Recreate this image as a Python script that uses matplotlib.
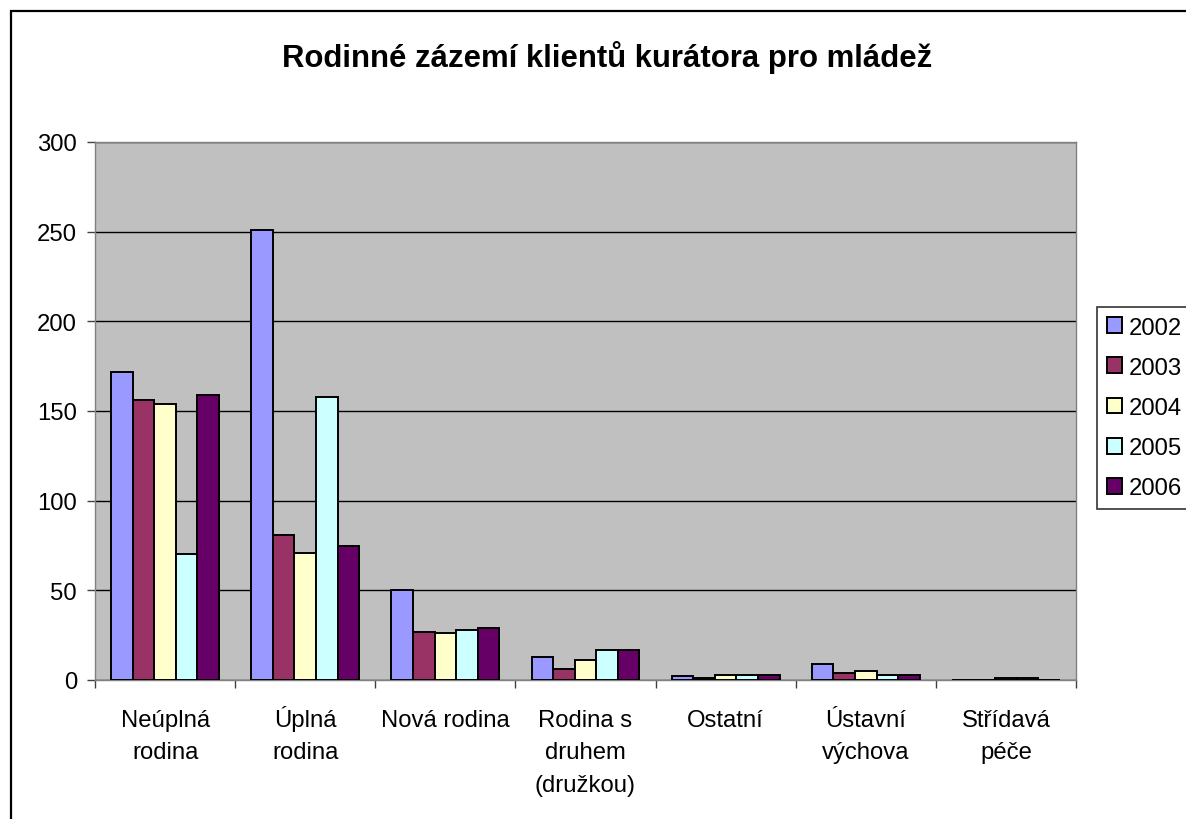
import matplotlib
matplotlib.use("Agg")
import matplotlib.pyplot as plt
import matplotlib.transforms as mtransforms
import numpy as np
from matplotlib.patches import Rectangle

categories = ["Neúplná\nrodina", "Úplná\nrodina", "Nová rodina", "Rodina s\ndruhem\n(družkou)",
              "Ostatní", "Ústavní\nvýchova", "Střídavá\npéče"]
years = ["2002", "2003", "2004", "2005", "2006"]
v2002 = [172, 251, 50, 13, 2, 9, 0]
v2003 = [156, 81, 27, 6, 1, 4, 0]
v2004 = [154, 71, 26, 11, 3, 5, 1]
v2005 = [70, 158, 28, 17, 3, 3, 1]
v2006 = [159, 75, 29, 17, 3, 3, 0]
series = [v2002, v2003, v2004, v2005, v2006]
colors = ["#9999FF", "#993366", "#FFFFCC", "#CCFFFF", "#660066"]
title = "Rodinné zázemí klientů kurátora pro mládež"

plt.rcParams['font.family'] = ['Liberation Sans', 'DejaVu Sans']

fig = plt.figure(figsize=(11.86, 8.2), dpi=100)
W, H = 1186, 820
ax = fig.add_axes([95 / W, 1 - 681 / H, (1076 - 95) / W, (681 - 143) / H])
ax.set_facecolor("#C0C0C0")

x = np.arange(len(categories))
n = len(series)
bw = 1.0 / (n + 1.5)
for i, (vals, c, lab) in enumerate(zip(series, colors, years)):
    ax.bar(x + (i - (n - 1) / 2) * bw, vals, width=bw, color=c, edgecolor="black",
           linewidth=1.4, label=lab, zorder=3)

ax.set_xlim(-0.5, len(categories) - 0.5)
ax.set_ylim(0, 300)
ax.set_yticks(range(0, 301, 50))
ax.yaxis.grid(True, color="black", linewidth=1.0, zorder=1)
ax.set_axisbelow(True)
for s in ax.spines.values():
    s.set_color("#808080")
    s.set_linewidth(1.0)

# category labels: each line placed on its own baseline
ax.set_xticks(x)
ax.set_xticklabels([])
ax.tick_params(axis="x", which="major", length=0)
ax.set_xticks(np.arange(-0.5, len(categories), 1), minor=True)
ax.tick_params(axis="x", which="minor", length=6, color="#404040", width=1.0, direction="out")
ax.tick_params(axis="y", length=6, color="#404040", width=1.0, direction="out", labelsize=17.2, pad=7)

base = mtransforms.blended_transform_factory(ax.transData, ax.transAxes)
for xi, lab in zip(x, categories):
    for k, line in enumerate(lab.split("\n")):
        off = mtransforms.ScaledTranslation(0, -(46 + 32.5 * k) / 100, fig.dpi_scale_trans)
        ax.text(xi, 0, line, transform=base + off, ha="center", va="baseline",
                fontsize=17.2, clip_on=False)

fig.text(607 / W, 1 - 58 / H, title, ha="center", va="center", fontsize=22.4, fontweight="bold")

leg = fig.legend(loc="upper left", bbox_to_anchor=(1097 / W, 1 - 308 / H), fontsize=17.2,
                 frameon=True, fancybox=False, edgecolor="black", handlelength=0.65,
                 handleheight=0.65, handletextpad=0.3, labelspacing=0.76, borderpad=0.4,
                 borderaxespad=0)
leg.get_frame().set_linewidth(1.2)

border = Rectangle((11 / W, -0.1), 1.2, 1.1 - 12 / H, transform=fig.transFigure,
                   fill=False, edgecolor="black", linewidth=1.6)
fig.patches.append(border)

fig.savefig("out.png", dpi=100)
